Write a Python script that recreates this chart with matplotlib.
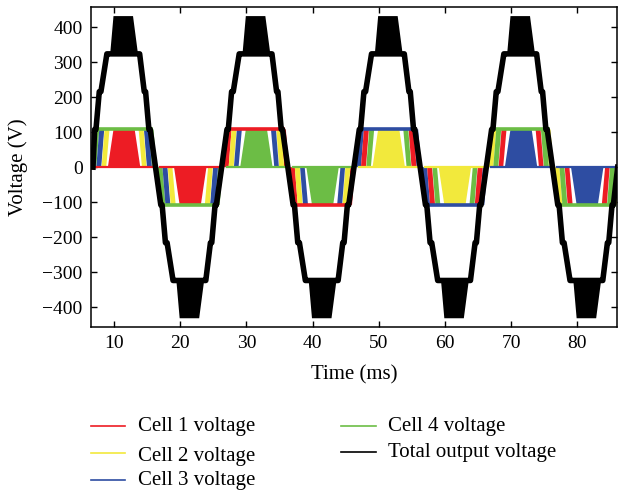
import matplotlib
matplotlib.use("Agg")
import matplotlib.pyplot as plt
from matplotlib.lines import Line2D

plt.rcParams['font.family'] = ['Liberation Serif', 'DejaVu Serif']

# --- data -------------------------------------------------------------
cell_v = 108                       # dc link voltage of one H-bridge cell (V)
hc_center = [11.5, 21.5, 31.5, 41.5, 51.5, 61.5, 71.5, 81.5]   # half-cycle centres (ms)
hc_sign = [1, -1, 1, -1, 1, -1, 1, -1]

# which cell switches in each band of a half-cycle: outermost, 2nd, 3rd, centre
hc_order = [[4, 3, 2, 1], [4, 3, 2, 1],
            [1, 2, 3, 4], [1, 2, 3, 4],
            [3, 1, 4, 2], [3, 1, 4, 2],
            [2, 4, 1, 3], [2, 4, 1, 3]]
# cell whose trace sits on the outer rail (+/- cell_v) during each half-cycle
hc_rail = [4, 4, 1, 1, 3, 3, 4, 4]

# band edges, offset from half-cycle centre (ms): at 0 V and at full cell voltage
side_base = [(4.2, 4.9), (3.45, 4.2), (2.7, 3.4)]
side_top = [(3.75, 4.45), (3.0, 3.75), (2.2, 2.95)]
centre_base = 2.45
centre_top = 1.6

# staircase outline of the total output (offset ms, level in cells)
out_left_dt = [-4.7, -4.45, -4.25, -3.75, -3.5, -2.6, -2.05]
out_left_lv = [0, 1, 1, 2, 2, 3, 3]
out_right_dt = [2.05, 2.35, 3.05, 3.25, 3.75, 3.95, 4.6]
out_right_lv = [3, 3, 2, 2, 1, 1, 0]
# PWM block between level 3 and 4
peak_dt = [-2.1, -1.6, 1.35, 2.1]
peak_lv = [3, 4, 4, 3]

cell_colors = {1: '#ED1C24', 2: '#F2E93C', 3: '#2E4DA2', 4: '#6CBD45'}
legend_labels = ['Cell 1 voltage', 'Cell 2 voltage', 'Cell 3 voltage',
                 'Cell 4 voltage', 'Total output voltage']

# --- figure -----------------------------------------------------------
fig = plt.figure(figsize=(6.18, 4.93), dpi=100)
ax = fig.add_axes([91 / 618, 1 - 327 / 493, 526 / 618, 320 / 493])

for k, c in enumerate(hc_center):
    s = hc_sign[k]
    order = hc_order[k]
    top = s * cell_v
    # side bands, both flanks
    for j in range(3):
        col = cell_colors[order[j]]
        bi, bo = side_base[j]
        ti, to = side_top[j]
        for m in (-1, 1):
            ax.fill([c + m * bo, c + m * bi, c + m * ti, c + m * to],
                    [0, 0, top, top], color=col, lw=0, zorder=2)
    # centre band
    ax.fill([c - centre_base, c + centre_base, c + centre_top, c - centre_top],
            [0, 0, top, top], color=cell_colors[order[3]], lw=0, zorder=2)
    # rails: inner (0 V) in centre cell colour, outer in rail cell colour
    ax.plot([c - 4.5, c + 4.3], [0, 0], color=cell_colors[order[3]],
            lw=1.6, zorder=3)
    ax.plot([c - 4.35, c + 4.0], [top, top], color=cell_colors[hc_rail[k]],
            lw=2.6, zorder=3)

# total output voltage
tx, ty = [], []
n = len(hc_center)
for k, c in enumerate(hc_center):
    s = hc_sign[k]
    left = list(zip(out_left_dt, out_left_lv))
    right = list(zip(out_right_dt, out_right_lv))
    if k > 0:
        left = left[1:]
    if k < n - 1:
        right = right[:-1]
    for dt, lv in left + right:
        tx.append(c + dt)
        ty.append(s * lv * cell_v)
    ax.fill([c + d for d in peak_dt], [s * lv * cell_v for lv in peak_lv],
            color='black', lw=0, zorder=5)
ax.plot(tx, ty, color='black', lw=4.0, zorder=5)

ax.set_xlim(6.5, 86)
ax.set_ylim(-457, 458)
ax.set_xticks(range(10, 81, 10))
ax.set_yticks(range(-400, 401, 100))
ax.set_yticklabels([str(v).replace('-', '\u2212') for v in range(-400, 401, 100)])
ax.tick_params(direction='in', top=True, right=True, length=4, width=1,
               labelsize=14, pad=6)
for sp in ax.spines.values():
    sp.set_linewidth(1.1)
ax.set_xlabel('Time (ms)', fontsize=15)
ax.set_ylabel('Voltage (V)', fontsize=15)
ax.xaxis.set_label_coords(0.5, -0.118)
ax.yaxis.set_label_coords(-0.12, 0.5)

# legend below the axes
entries = [(91, 125, 426, 138, 426), (91, 125, 453, 138, 456), (91, 125, 480, 138, 481),
           (341, 376, 426, 388, 426), (341, 376, 452, 388, 453)]
line_colors = [cell_colors[1], cell_colors[2], cell_colors[3], cell_colors[4], 'black']
for (x0, x1, yl, xt, yt), col, lab in zip(entries, line_colors, legend_labels):
    fig.add_artist(Line2D([x0 / 618, x1 / 618], [1 - yl / 493, 1 - yl / 493],
                          transform=fig.transFigure, color=col, lw=1.2))
    fig.text(xt / 618, 1 - yt / 493, lab, fontsize=15, va='center', ha='left')

fig.savefig('out.png', dpi=100)
